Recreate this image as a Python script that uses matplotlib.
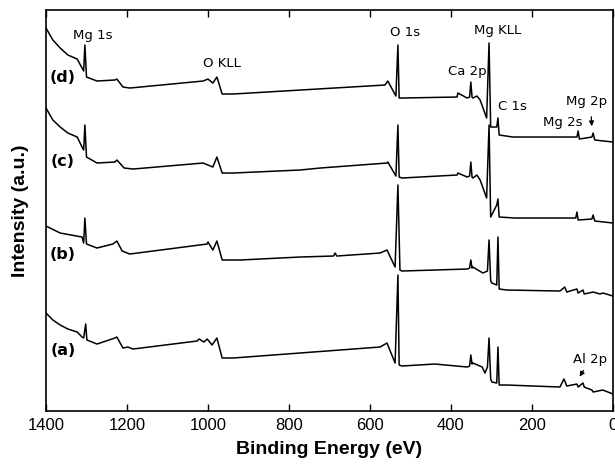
import matplotlib.pyplot as plt

# binding energy (eV) / intensity (a.u.)
energy_a = [1400, 1383, 1365, 1346, 1323, 1311, 1307, 1302, 1299, 1274, 1230, 1225, 1210, 1198, 1185,
            1027, 1022, 1010, 1002, 990, 978, 965, 938, 773, 575, 558, 538, 531, 528, 521, 440,
            360, 354, 351, 348, 346, 323, 316, 310, 306, 302, 299, 287, 284, 281, 262, 131, 121,
            114, 89, 86, 74, 71, 52, 49, 25, 0]
intensity_a = [98, 91, 86, 82, 79, 74, 73, 87, 71, 67, 73, 74, 63, 64, 62,
               70, 72, 69, 72, 66, 73, 53, 53, 58, 64, 68, 48, 136, 46, 45, 47,
               44, 45, 56, 47, 48, 44, 38, 44, 73, 32, 29, 28, 64, 26, 26, 24, 32,
               25, 27, 24, 28, 24, 21, 19, 21, 17]

energy_b = [1400, 1365, 1311, 1307, 1304, 1300, 1274, 1235, 1225, 1212, 1193, 1002, 1000, 988,
            978, 965, 921, 773, 690, 686, 682, 575, 558, 538, 531, 526, 521, 360, 354, 351, 348,
            346, 321, 310, 306, 302, 299, 287, 284, 281, 262, 131, 119, 114, 89, 86, 74, 71, 49,
            32, 25, 0]
intensity_b = [185, 178, 174, 168, 193, 167, 163, 167, 170, 160, 157, 167, 169, 161,
               170, 151, 151, 154, 155, 158, 155, 158, 161, 144, 226, 141, 140, 142, 143, 151, 143,
               144, 138, 140, 171, 130, 128, 126, 174, 122, 121, 120, 124, 119, 122, 118, 121, 117, 119,
               117, 118, 115]

energy_c = [1400, 1383, 1365, 1346, 1323, 1311, 1307, 1304, 1300, 1274, 1230, 1225, 1207, 1185,
            1012, 988, 978, 965, 938, 773, 723, 558, 556, 536, 531, 528, 521, 385, 383,
            360, 354, 351, 348, 346, 336, 328, 312, 306, 302, 287, 284, 281, 242, 92, 89, 86,
            52, 49, 45, 0]
intensity_c = [303, 291, 284, 278, 274, 264, 261, 286, 254, 248, 249, 251, 243, 242,
               248, 244, 254, 238, 238, 241, 243, 248, 249, 235, 286, 234, 233, 236, 238,
               234, 235, 249, 234, 233, 236, 231, 213, 286, 194, 206, 212, 194, 193, 193, 199, 191,
               192, 196, 190, 188]

energy_d = [1400, 1383, 1365, 1346, 1323, 1311, 1307, 1304, 1300, 1274, 1230, 1225, 1210, 1193,
            1012, 1000, 988, 978, 965, 938, 563, 556, 536, 531, 528, 521, 385, 383, 360, 354,
            351, 348, 346, 336, 328, 312, 306, 302, 291, 287, 284, 281, 247, 89, 86, 83, 52, 49,
            45, 0]
intensity_d = [383, 371, 363, 356, 352, 343, 340, 366, 334, 330, 331, 332, 324, 323,
               330, 332, 328, 334, 317, 317, 326, 330, 315, 366, 313, 313, 314, 318, 313, 314,
               329, 314, 313, 315, 311, 293, 368, 284, 284, 284, 293, 276, 274, 274, 280, 272, 274, 278,
               271, 269]

curve_names = ['(a)', '(b)', '(c)', '(d)']
name_energy = 1358
name_intensity = [61, 157, 250, 334]

peak_labels = ['Mg 1s', 'O KLL', 'O 1s', 'Mg KLL', 'Ca 2p', 'C 1s', 'Mg 2p', 'Mg 2s']
peak_label_energy = [1284, 965, 514, 286, 360, 249, 64, 123]
peak_label_intensity = [376, 348, 379, 381, 340, 305, 310, 289]

fig = plt.figure(figsize=(6.15, 4.75), dpi=100)
ax = fig.add_axes([0.0748, 0.1347, 0.9219, 0.8442])

for e, i in [(energy_a, intensity_a), (energy_b, intensity_b),
             (energy_c, intensity_c), (energy_d, intensity_d)]:
    ax.plot(e, i, color='black', lw=1.1)

for name, y in zip(curve_names, name_intensity):
    ax.text(name_energy, y, name, fontsize=11.5, fontweight='bold',
            ha='center', va='center', family='DejaVu Sans')

for lab, e, y in zip(peak_labels, peak_label_energy, peak_label_intensity):
    ax.text(e, y, lab, fontsize=9.5, ha='center', va='center', family='DejaVu Sans')

ax.text(57, 52, 'Al 2p', fontsize=9.5, ha='center', va='center', family='DejaVu Sans')
ax.annotate('', xy=(52, 282), xytext=(54, 297),
            arrowprops=dict(arrowstyle='-|>', color='black', lw=0.9, mutation_scale=7))
ax.annotate('', xy=(86, 32), xytext=(69, 43),
            arrowprops=dict(arrowstyle='-|>', color='black', lw=0.9, mutation_scale=7))

ax.set_xlim(1400, 0)
ax.set_ylim(0, 401)
ax.set_xticks(range(1400, -1, -200))
ax.set_yticks([])
ax.tick_params(axis='x', direction='in', top=True, length=5, width=1, labelsize=12, pad=5)
for s in ax.spines.values():
    s.set_linewidth(1.2)

ax.set_xlabel('Binding Energy (eV)', fontsize=14, fontweight='bold',
              family='Liberation Sans', labelpad=6)
ax.set_ylabel('Intensity (a.u.)', fontsize=14, fontweight='bold',
              family='Liberation Sans', labelpad=12)
for t in ax.get_xticklabels():
    t.set_family('Liberation Sans')

fig.savefig('out.png', dpi=100)
